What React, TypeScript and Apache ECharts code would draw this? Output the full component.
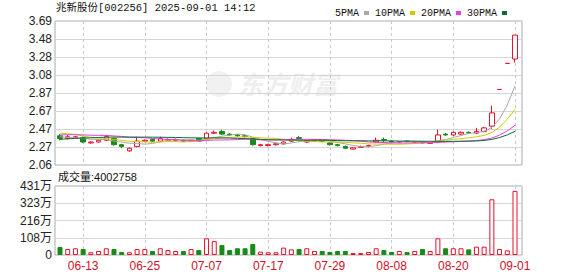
import React, { useEffect, useRef } from 'react';
import * as echarts from 'echarts';

const dates = ['06-10','06-11','06-12','06-13','06-16','06-17','06-18','06-19','06-20','06-23','06-24','06-25','06-26','06-27','06-30','07-01','07-02','07-03','07-04','07-07','07-08','07-09','07-10','07-11','07-14','07-15','07-16','07-17','07-18','07-21','07-22','07-23','07-24','07-25','07-28','07-29','07-30','07-31','08-01','08-04','08-05','08-06','08-07','08-08','08-11','08-12','08-13','08-14','08-15','08-18','08-19','08-20','08-21','08-22','08-25','08-26','08-27','08-28','08-29','09-01'];

const opens = [2.39,2.36,2.37,2.37,2.31,2.32,2.34,2.36,2.29,2.22,2.27,2.33,2.35,2.33,2.34,2.34,2.34,2.33,2.36,2.36,2.42,2.44,2.41,2.40,2.39,2.36,2.28,2.28,2.29,2.30,2.33,2.37,2.32,2.33,2.34,2.31,2.29,2.27,2.24,2.26,2.27,2.32,2.35,2.33,2.32,2.33,2.32,2.32,2.305,2.32,2.41,2.40,2.41,2.43,2.42,2.44,2.50,2.915,3.21,3.26];
const closes = [2.36,2.38,2.38,2.32,2.32,2.34,2.38,2.29,2.27,2.25,2.33,2.34,2.33,2.36,2.35,2.35,2.33,2.34,2.33,2.42,2.43,2.41,2.40,2.39,2.385,2.29,2.29,2.29,2.30,2.32,2.35,2.36,2.33,2.345,2.33,2.29,2.28,2.25,2.255,2.27,2.28,2.34,2.34,2.32,2.325,2.325,2.325,2.31,2.31,2.40,2.40,2.43,2.43,2.425,2.44,2.48,2.65,2.915,3.21,3.53];
const lows = [2.34,2.35,2.36,2.31,2.30,2.31,2.33,2.28,2.25,2.21,2.26,2.32,2.32,2.32,2.33,2.33,2.32,2.32,2.32,2.35,2.41,2.40,2.39,2.38,2.37,2.28,2.27,2.27,2.28,2.29,2.32,2.35,2.31,2.32,2.32,2.28,2.27,2.24,2.235,2.255,2.26,2.31,2.31,2.315,2.31,2.315,2.31,2.30,2.30,2.31,2.39,2.39,2.40,2.41,2.41,2.43,2.47,2.915,3.21,3.22];
const highs = [2.41,2.40,2.39,2.38,2.33,2.35,2.40,2.37,2.30,2.26,2.38,2.35,2.36,2.38,2.36,2.36,2.35,2.34,2.37,2.43,2.45,2.46,2.42,2.41,2.40,2.37,2.30,2.30,2.31,2.33,2.37,2.39,2.34,2.35,2.35,2.32,2.30,2.28,2.26,2.28,2.29,2.37,2.37,2.34,2.33,2.34,2.33,2.33,2.32,2.46,2.42,2.44,2.44,2.44,2.48,2.49,2.73,2.915,3.21,3.53];
const volumes = [500000,370000,420000,370000,170000,250000,420000,370000,190000,170000,370000,370000,250000,420000,310000,250000,250000,370000,310000,1040000,870000,620000,310000,420000,420000,690000,210000,170000,170000,460000,350000,370000,420000,250000,250000,190000,250000,250000,120000,120000,190000,420000,310000,190000,250000,190000,250000,370000,250000,1040000,420000,420000,420000,350000,520000,520000,3480000,370000,290000,4002758];
// closes of the 29 sessions before 06-10 (needed for the moving averages)
const priorCloses = [2.20,2.22,2.21,2.24,2.23,2.26,2.27,2.28,2.29,2.30,2.33,2.35,2.38,2.40,2.37,2.39,2.41,2.38,2.40,2.39,2.44,2.47,2.49,2.46,2.44,2.42,2.39,2.37,2.36];

const priceTickLabels = ['2.06','2.27','2.47','2.67','2.87','3.08','3.28','3.48','3.69'];
const volTickLabels = ['0','108万','216万','323万','431万'];
const maPeriods = [5, 10, 20, 30];
const maNames = ['5PMA','10PMA','20PMA','30PMA'];
const maColors = ['#a8a8a8','#d8c800','#e83de8','#0e6b3a'];

const RED = '#e8102a';
const GREEN = '#178a17';

function movingAverage(period: number): number[] {
  const all = priorCloses.concat(closes);
  const off = priorCloses.length;
  return closes.map((_, i) => {
    let s = 0;
    for (let k = 0; k < period; k++) s += all[off + i - k];
    return +(s / period).toFixed(4);
  });
}

const showIdx = (i: number) => i >= 3 && (i - 3) % 8 === 0;

export default function App() {
  const ref = useRef<HTMLDivElement>(null);
  useEffect(() => {
    if (!ref.current) return;
    const chart = echarts.init(ref.current, undefined, { renderer: 'svg' });
    const candleData = dates.map((_, i) => [opens[i], closes[i], lows[i], highs[i]]);
    const isUp = (i: number) =>
      closes[i] > opens[i] || (closes[i] === opens[i] && (i === 0 || closes[i] >= closes[i - 1]));
    const volData = volumes.map((v, i) => ({
      value: v,
      itemStyle: isUp(i)
        ? { color: '#ffffff', borderColor: RED, borderWidth: 1 }
        : { color: GREEN, borderColor: GREEN, borderWidth: 1 },
    }));
    const labelFont = { fontFamily: '"Liberation Sans", Arial, "Noto Sans CJK SC"', fontSize: 12, color: '#222' };
    const dashed = { show: true, interval: (i: number) => showIdx(i), lineStyle: { color: '#c8c8c8', type: [3, 3], width: 1 } };

    chart.setOption({
      animation: false,
      backgroundColor: '#ffffff',
      legend: {
        data: maNames,
        right: 66,
        top: 3,
        align: 'right',
        icon: 'rect',
        itemWidth: 5,
        itemHeight: 4,
        itemGap: 6,
        selectedMode: false,
        textStyle: { fontFamily: '"Liberation Mono", monospace', fontSize: 10, color: '#111' },
      },
      grid: [
        { left: 55, right: 56, top: 21, height: 144, show: true, borderColor: '#aaaaaa', borderWidth: 1, backgroundColor: 'transparent' },
        { left: 60, right: 63, top: 21, height: 144 },
        { left: 55, right: 56, top: 186, height: 69, show: true, borderColor: '#aaaaaa', borderWidth: 1, backgroundColor: 'transparent' },
        { left: 60, right: 63, top: 186, height: 69 },
      ],
      xAxis: [
        { gridIndex: 0, type: 'value', min: 0, max: 1, show: false },
        {
          gridIndex: 1, type: 'category', data: dates, boundaryGap: false,
          axisLine: { show: false }, axisTick: { show: false }, axisLabel: { show: false },
          splitLine: dashed,
        },
        { gridIndex: 2, type: 'value', min: 0, max: 1, show: false },
        {
          gridIndex: 3, type: 'category', data: dates, boundaryGap: false,
          axisLine: { show: false }, axisTick: { show: false },
          axisLabel: { ...labelFont, color: '#d0102a', interval: (i: number) => showIdx(i), margin: 5 },
          splitLine: dashed,
        },
      ],
      yAxis: [
        {
          gridIndex: 0, type: 'value', min: 0, max: 8, interval: 1,
          axisLine: { show: false }, axisTick: { show: false },
          axisLabel: { ...labelFont, margin: 3, formatter: (v: number) => priceTickLabels[Math.round(v)] },
          splitLine: { show: true, lineStyle: { color: '#d6d6d6', width: 1 } },
        },
        { gridIndex: 1, type: 'value', min: 2.06, max: 3.69, show: false, splitLine: { show: false } },
        {
          gridIndex: 2, type: 'value', min: 0, max: 4, interval: 1,
          axisLine: { show: false }, axisTick: { show: false },
          axisLabel: { ...labelFont, margin: 3, formatter: (v: number) => volTickLabels[Math.round(v)] },
          splitLine: { show: true, lineStyle: { color: '#d6d6d6', width: 1 } },
        },
        { gridIndex: 3, type: 'value', min: 0, max: 4310000, show: false, splitLine: { show: false } },
      ],
      graphic: [
        {
          type: 'circle', left: 206, top: 71, silent: true, z: 0,
          shape: { r: 13 }, style: { fill: '#f1f1f1' },
        },
        {
          type: 'text', left: 238, top: 70, silent: true, z: 0,
          style: { text: '东方财富', fill: '#eeeeee', fontSize: 25, fontStyle: 'italic', fontWeight: 'bold', fontFamily: '"Noto Sans CJK SC"' },
        },
        {
          type: 'text', left: 56, top: 3,
          style: { text: '兆新股份[002256] 2025-09-01 14:12', fill: '#111', fontSize: 10.5, fontFamily: '"Liberation Mono", "Noto Sans CJK SC", monospace' },
        },
        {
          type: 'text', left: 58, top: 171,
          style: { text: '成交量:4002758', fill: '#111', fontSize: 11, fontFamily: '"Liberation Sans", "Noto Sans CJK SC", sans-serif' },
        },
      ],
      series: [
        {
          type: 'candlestick', name: 'K', xAxisIndex: 1, yAxisIndex: 1, data: candleData,
          barWidth: 5, clip: false,
          itemStyle: { color: '#ffffff', color0: GREEN, borderColor: RED, borderColor0: GREEN, borderWidth: 1 },
        },
        ...maPeriods.map((p, k) => ({
          type: 'line', name: maNames[k], xAxisIndex: 1, yAxisIndex: 1,
          data: movingAverage(p), showSymbol: false, symbol: 'none', smooth: false,
          itemStyle: { color: maColors[k] },
          lineStyle: { color: maColors[k], width: 1 },
        })),
        {
          type: 'bar', name: 'VOL', xAxisIndex: 3, yAxisIndex: 3, data: volData,
          barWidth: 5, clip: false,
        },
      ],
    });
    return () => chart.dispose();
  }, []);
  return <div ref={ref} style={{ position: 'fixed', left: 0, top: 0, width: 578, height: 276 }} />;
}
